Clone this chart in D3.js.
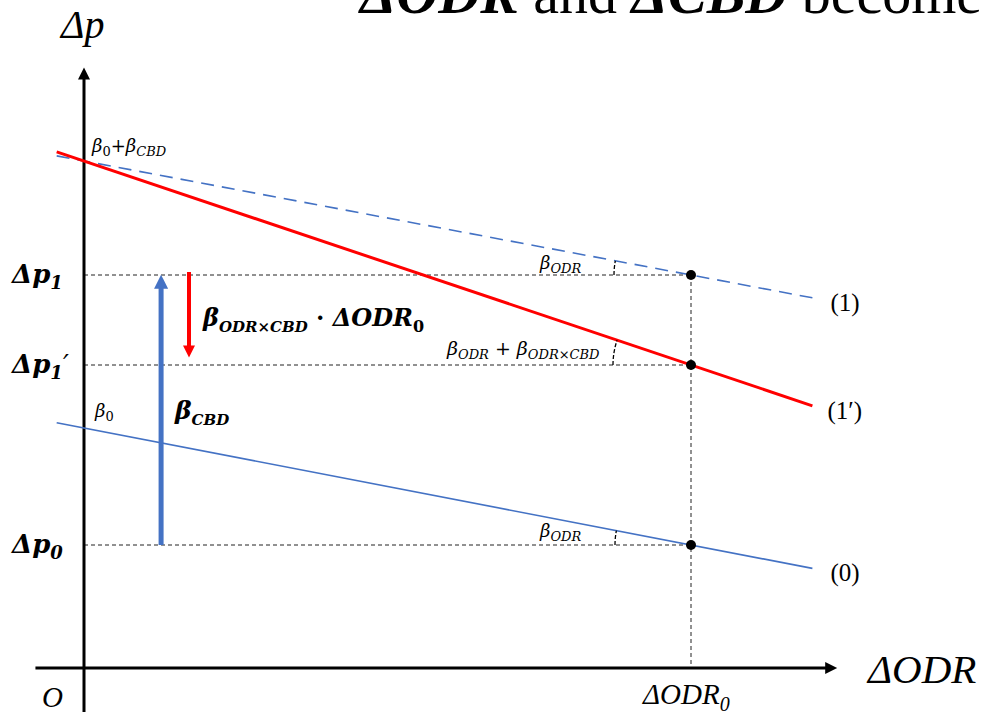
<!DOCTYPE html>
<html>
<head>
<meta charset="utf-8">
<script src="https://cdn.jsdelivr.net/npm/d3@7"></script>
<style>
  body { margin: 0; background: #fff; }
  svg { display: block; }
</style>
</head>
<body>
<div id="chart"></div>
<script>
'use strict';

// line names, intercepts (value at dODR = 0) and slopes
var lineNames = ["(0)", "(1)", "(1′)"];
var intercepts = [0.40, 0.845, 0.845];
var slopes = [-0.195, -0.19, -0.34];
var lineStart = -0.045;
var lineEnd = 1.2;

// the chosen dODR and the levels read there
var odr0 = 1;
var levelValues = [0.205, 0.655, 0.505];

// arrow x positions (blue, red)
var arrowX = [0.127, 0.173];

var myChart = {};
myChart.width = 984;
myChart.height = 712;

var x = d3.scaleLinear().domain([0, 1]).range([84, 691]);
var y = d3.scaleLinear().domain([0, 1]).range([668, 68]);

var blue = "#4472C4";
var red = "#FF0000";
var serif = "'Liberation Serif', serif";

myChart.appendSVG = function(div){
    var svg = d3.select(div).append("svg")
        .attr("width", myChart.width)
        .attr("height", myChart.height)
        .attr("font-family", "'DejaVu Serif', serif");

    var defs = svg.append("defs");
    [["head-black", "#000", 12, 15], ["head-blue", blue, 14, 18], ["head-red", red, 12, 18]].forEach(function(m){
        defs.append("marker")
            .attr("id", m[0])
            .attr("viewBox", "0 0 10 10")
            .attr("refX", 2).attr("refY", 5)
            .attr("markerUnits", "userSpaceOnUse")
            .attr("markerWidth", m[3]).attr("markerHeight", m[2])
            .attr("orient", "auto")
            .append("path")
            .attr("d", "M0,0 L10,5 L0,10 Z")
            .attr("fill", m[1]);
    });
    return svg;
};

// append "main" then "sub" lowered as a subscript
myChart.sub = function(t, main, sub, dy, size){
    t.append("tspan").text(main);
    t.append("tspan").attr("dy", dy).attr("font-size", size).text(sub);
    return t;
};

myChart.createGuides = function(svg){
    var g = svg.append("g").attr("stroke", "#222").attr("stroke-width", 1).attr("stroke-dasharray", "4,3");
    levelValues.forEach(function(v){
        g.append("line")
            .attr("x1", x(0)).attr("x2", x(odr0))
            .attr("y1", y(v)).attr("y2", y(v));
    });
    g.append("line")
        .attr("x1", x(odr0)).attr("x2", x(odr0))
        .attr("y1", y(d3.max(levelValues))).attr("y2", y(0));
};

myChart.createAxes = function(svg){
    svg.append("line")
        .attr("x1", x(0)).attr("x2", x(0))
        .attr("y1", y(-0.08)).attr("y2", y(0.985))
        .attr("stroke", "#000").attr("stroke-width", 3)
        .attr("marker-end", "url(#head-black)");
    svg.append("line")
        .attr("x1", x(-0.08)).attr("x2", x(1.225))
        .attr("y1", y(0)).attr("y2", y(0))
        .attr("stroke", "#000").attr("stroke-width", 3)
        .attr("marker-end", "url(#head-black)");
};

myChart.createLines = function(svg){
    var styles = [
        { color: blue, w: 1.6, dash: null },
        { color: blue, w: 1.6, dash: "13,8" },
        { color: red, w: 3, dash: null }
    ];
    lineNames.forEach(function(name, i){
        svg.append("line")
            .attr("x1", x(lineStart)).attr("y1", y(intercepts[i] + slopes[i] * lineStart))
            .attr("x2", x(lineEnd)).attr("y2", y(intercepts[i] + slopes[i] * lineEnd))
            .attr("stroke", styles[i].color)
            .attr("stroke-width", styles[i].w)
            .attr("stroke-dasharray", styles[i].dash);
        svg.append("text")
            .attr("x", x(lineEnd) + (i === 2 ? 15 : 18))
            .attr("y", y(intercepts[i] + slopes[i] * lineEnd) + 13)
            .attr("font-family", serif)
            .attr("font-size", 25)
            .text(name);
    });

    // angle marks at the chosen dODR
    var radius = [76, 77, 78];
    lineNames.forEach(function(name, i){
        var cx = x(odr0), cy = y(intercepts[i] + slopes[i] * odr0);
        var theta = Math.abs(Math.atan2(y(intercepts[i]) - cy, x(odr0) - x(0)));
        var r = radius[i];
        var p = d3.path();
        p.moveTo(cx - r, cy);
        p.arc(cx, cy, r, Math.PI, Math.PI + theta, false);
        svg.append("path")
            .attr("d", p.toString())
            .attr("fill", "none")
            .attr("stroke", "#000")
            .attr("stroke-width", 1.3)
            .attr("stroke-dasharray", "4,2");
    });

    svg.selectAll(".dot")
        .data(levelValues)
        .enter()
        .append("circle")
        .classed("dot", true)
        .attr("cx", x(odr0))
        .attr("cy", function(d){ return y(d); })
        .attr("r", 5)
        .attr("fill", "#000");
};

myChart.createArrows = function(svg){
    svg.append("line")
        .attr("x1", x(arrowX[0])).attr("x2", x(arrowX[0]))
        .attr("y1", y(levelValues[0])).attr("y2", y(levelValues[1]) + 11)
        .attr("stroke", blue).attr("stroke-width", 5)
        .attr("marker-end", "url(#head-blue)");
    svg.append("line")
        .attr("x1", x(arrowX[1])).attr("x2", x(arrowX[1]))
        .attr("y1", y(levelValues[1]) - 3).attr("y2", y(levelValues[2]) - 17)
        .attr("stroke", red).attr("stroke-width", 4)
        .attr("marker-end", "url(#head-red)");
};

myChart.createLabels = function(svg){
    // title, cut by the top edge
    var title = svg.append("text")
        .attr("x", 360).attr("y", 13)
        .attr("font-family", serif)
        .attr("font-size", 58);
    title.append("tspan").attr("font-weight", "bold").attr("font-style", "italic").text("ΔODR");
    title.append("tspan").text(" and ");
    title.append("tspan").attr("font-weight", "bold").attr("font-style", "italic").text("ΔCBD");
    title.append("tspan").text(" become");

    svg.append("text")
        .attr("x", 61).attr("y", 38)
        .attr("font-family", serif)
        .attr("font-size", 40).attr("font-style", "italic")
        .text("Δp");

    svg.append("text")
        .attr("x", 868).attr("y", 683)
        .attr("font-family", serif)
        .attr("font-size", 41).attr("font-style", "italic")
        .text("ΔODR");

    svg.append("text")
        .attr("x", 42).attr("y", 707)
        .attr("font-family", serif)
        .attr("font-size", 29).attr("font-style", "italic")
        .text("O");

    myChart.sub(svg.append("text")
        .attr("x", 643).attr("y", 704)
        .attr("font-family", serif)
        .attr("font-size", 29).attr("font-style", "italic"),
        "ΔODR", "0", 7, 20);

    // level labels on the y axis
    var levelOrder = [1, 2, 0];
    var levelSub = ["1", "1", "0"];
    levelOrder.forEach(function(li, i){
        var t = myChart.sub(svg.append("text")
            .attr("x", 12).attr("y", y(levelValues[li]) + 8)
            .attr("font-size", 26).attr("font-weight", "bold").attr("font-style", "italic"),
            "Δp", levelSub[i], 6, 18);
        if (i === 1) {
            t.append("tspan").attr("dy", -6).attr("font-weight", "normal").text("′");
        }
    });

    // beta labels
    var t1 = svg.append("text")
        .attr("x", 92).attr("y", y(intercepts[1]) - 9)
        .attr("font-size", 18).attr("font-style", "italic");
    t1.append("tspan").text("β");
    t1.append("tspan").attr("dy", 4).attr("font-size", 13).attr("font-style", "normal").text("0");
    t1.append("tspan").attr("dy", -4).attr("font-style", "normal").text("+");
    t1.append("tspan").text("β");
    t1.append("tspan").attr("dy", 4).attr("font-size", 13).text("CBD");

    var t2 = svg.append("text")
        .attr("x", 95).attr("y", y(intercepts[0]) - 11)
        .attr("font-size", 18).attr("font-style", "italic");
    t2.append("tspan").text("β");
    t2.append("tspan").attr("dy", 4).attr("font-size", 13).attr("font-style", "normal").text("0");

    myChart.sub(svg.append("text")
        .attr("x", 175).attr("y", 419)
        .attr("font-size", 25).attr("font-weight", "bold").attr("font-style", "italic"),
        "β", "CBD", 6, 15);

    var t3 = svg.append("text")
        .attr("x", 203).attr("y", 326)
        .attr("font-size", 24).attr("font-weight", "bold").attr("font-style", "italic");
    t3.append("tspan").text("β");
    t3.append("tspan").attr("dy", 6).attr("font-size", 15).text("ODR×CBD");
    t3.append("tspan").attr("dy", -6).attr("font-style", "normal").text(" · ");
    t3.append("tspan").text("ΔODR");
    t3.append("tspan").attr("dy", 6).attr("font-size", 16).attr("font-style", "normal").text("0");

    myChart.sub(svg.append("text")
        .attr("x", 540).attr("y", y(levelValues[1]) - 6)
        .attr("font-size", 18).attr("font-style", "italic"),
        "β", "ODR", 4, 13);
    myChart.sub(svg.append("text")
        .attr("x", 540).attr("y", y(levelValues[0]) - 8)
        .attr("font-size", 18).attr("font-style", "italic"),
        "β", "ODR", 4, 13);

    var t4 = svg.append("text")
        .attr("x", 447).attr("y", y(levelValues[2]) - 10)
        .attr("font-size", 19).attr("font-style", "italic");
    t4.append("tspan").text("β");
    t4.append("tspan").attr("dy", 4).attr("font-size", 13).text("ODR");
    t4.append("tspan").attr("dy", -4).attr("font-style", "normal").text(" + ");
    t4.append("tspan").text("β");
    t4.append("tspan").attr("dy", 4).attr("font-size", 13).text("ODR×CBD");
};

myChart.run = function(){
    var svg = myChart.appendSVG("#chart");
    myChart.createGuides(svg);
    myChart.createAxes(svg);
    myChart.createLines(svg);
    myChart.createArrows(svg);
    myChart.createLabels(svg);
};

window.onload = myChart.run;
</script>
</body>
</html>
